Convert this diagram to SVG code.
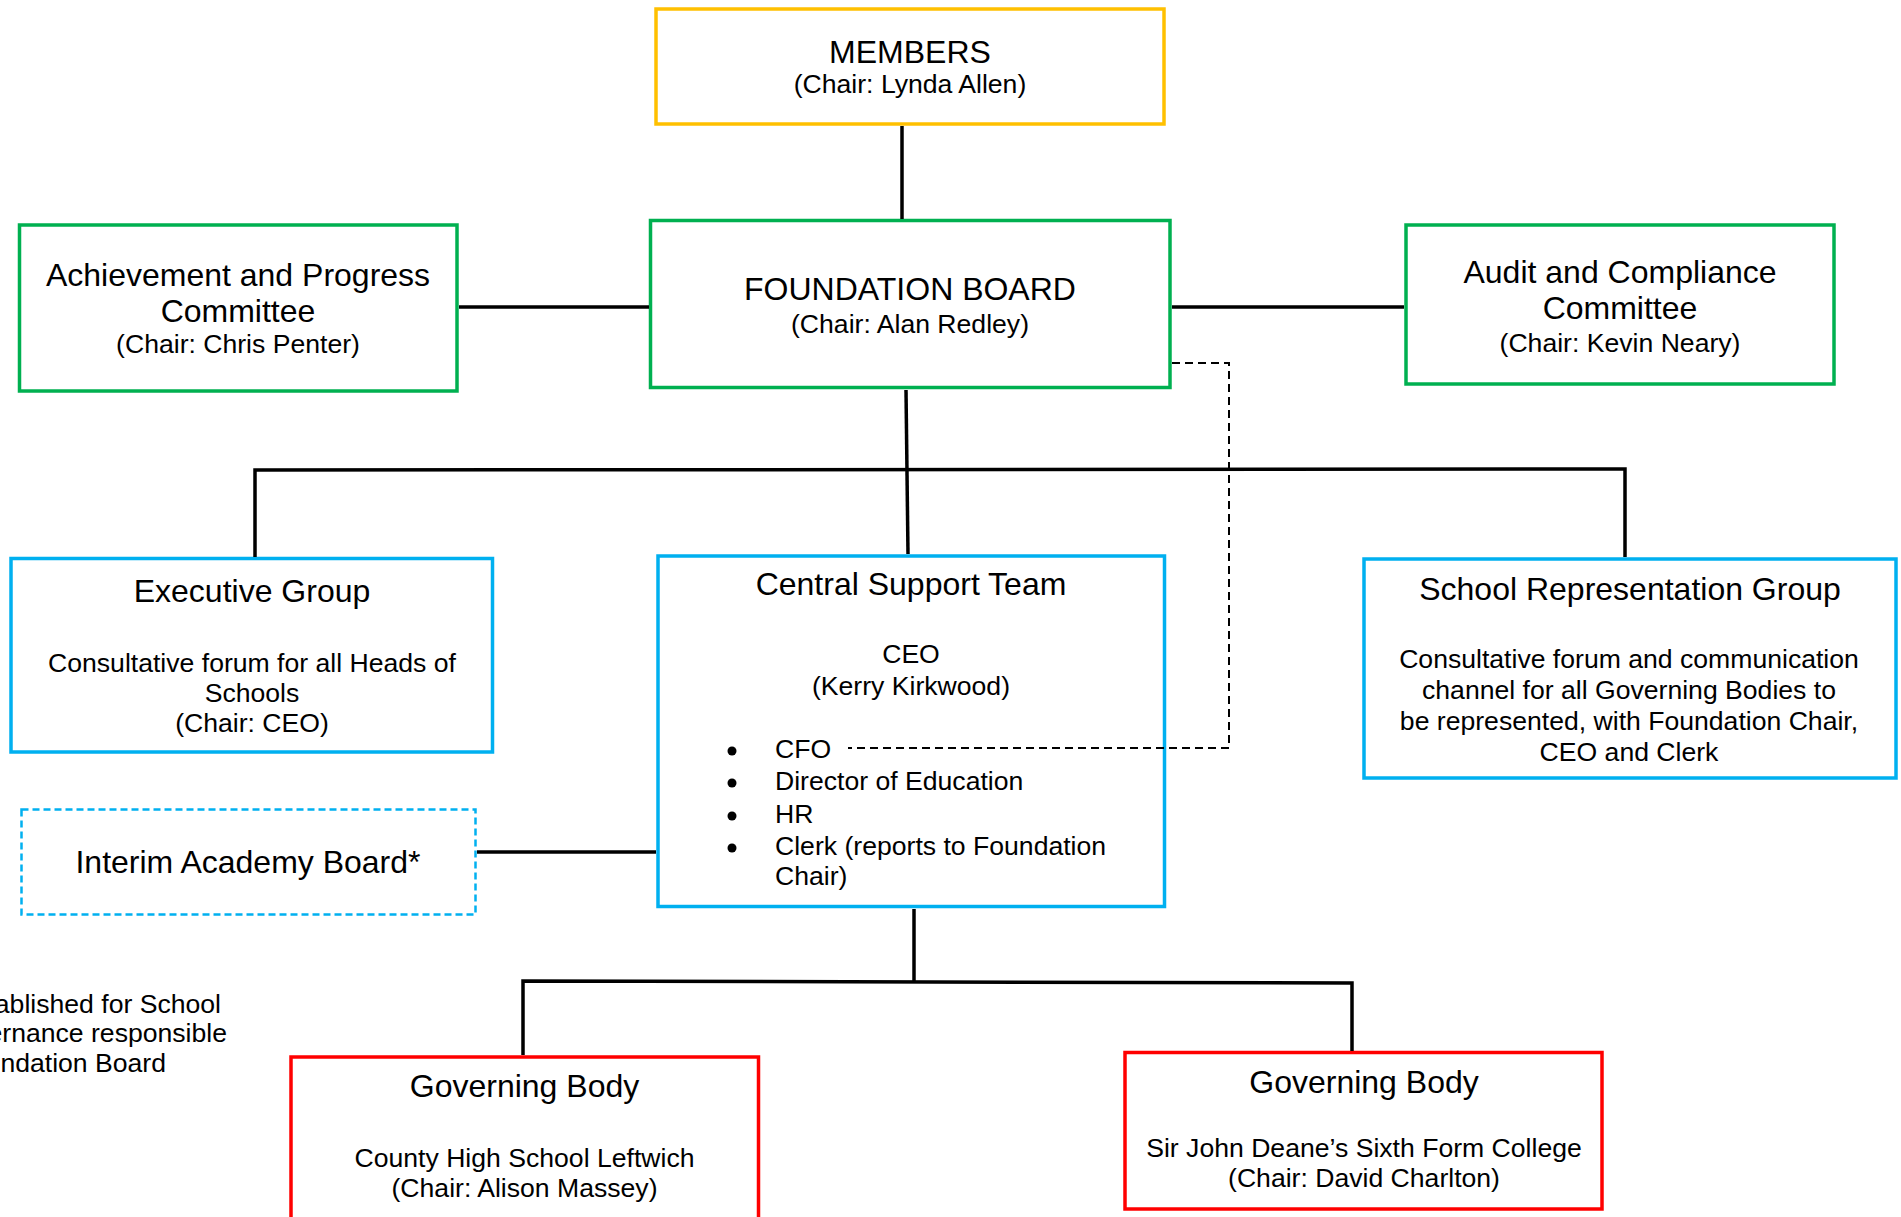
<svg xmlns="http://www.w3.org/2000/svg" width="1901" height="1217" viewBox="0 0 1901 1217">
<style>
.box{fill:#fff;stroke-width:3.5}
.gold{stroke:#FFC000}.green{stroke:#00B050}.blue{stroke:#00B0F0}.red{stroke:#FF0000}
.dash{fill:#fff;stroke:#00B0F0;stroke-width:2.5;stroke-dasharray:7 4}
text{font-family:"Liberation Sans",Arial,sans-serif;fill:#000}
.t{font-size:32px;text-anchor:middle}
.s{font-size:26.6px;text-anchor:middle}
.l{font-size:26.6px}
.e{font-size:26.6px;text-anchor:end}
.conn{fill:none;stroke:#000;stroke-width:3.5}
.dline{fill:none;stroke:#000;stroke-width:2;stroke-dasharray:8 5}
</style>
<rect width="1901" height="1217" fill="#fff"/>
<g id="members">
<rect class="box gold" x="656" y="9" width="508" height="115"/>
<text class="t" x="910" y="63">MEMBERS</text>
<text class="s" x="910" y="93">(Chair: Lynda Allen)</text>
</g>
<g id="foundation-board">
<rect class="box green" x="650.5" y="220.5" width="519.5" height="167"/>
<text class="t" x="910" y="300">FOUNDATION BOARD</text>
<text class="s" x="910" y="333">(Chair: Alan Redley)</text>
</g>
<g id="achievement">
<rect class="box green" x="19.5" y="225" width="437.5" height="166"/>
<text class="t" x="238" y="286">Achievement and Progress</text>
<text class="t" x="238" y="322">Committee</text>
<text class="s" x="238" y="353">(Chair: Chris Penter)</text>
</g>
<g id="audit">
<rect class="box green" x="1406" y="225" width="428" height="159"/>
<text class="t" x="1620" y="283">Audit and Compliance</text>
<text class="t" x="1620" y="319">Committee</text>
<text class="s" x="1620" y="352">(Chair: Kevin Neary)</text>
</g>
<g id="executive-group">
<rect class="box blue" x="11" y="558.5" width="481.5" height="193.5"/>
<text class="t" x="252" y="602">Executive Group</text>
<text class="s" x="252" y="672">Consultative forum for all Heads of</text>
<text class="s" x="252" y="702">Schools</text>
<text class="s" x="252" y="732">(Chair: CEO)</text>
</g>
<g id="central-support-team">
<rect class="box blue" x="658" y="556" width="506.5" height="350.5"/>
<text class="t" x="911" y="595">Central Support Team</text>
<text class="s" x="911" y="663">CEO</text>
<text class="s" x="911" y="695">(Kerry Kirkwood)</text>
<circle cx="732" cy="751" r="4.5"/>
<circle cx="732" cy="783" r="4.5"/>
<circle cx="732" cy="816" r="4.5"/>
<circle cx="732" cy="848" r="4.5"/>
<text class="l" x="775" y="758">CFO</text>
<text class="l" x="775" y="790">Director of Education</text>
<text class="l" x="775" y="823">HR</text>
<text class="l" x="775" y="855">Clerk (reports to Foundation</text>
<text class="l" x="775" y="885">Chair)</text>
</g>
<g id="school-representation-group">
<rect class="box blue" x="1364" y="559" width="532" height="219"/>
<text class="t" x="1630" y="600">School Representation Group</text>
<text class="s" x="1629" y="668">Consultative forum and communication</text>
<text class="s" x="1629" y="699">channel for all Governing Bodies to</text>
<text class="s" x="1629" y="730">be represented, with Foundation Chair,</text>
<text class="s" x="1629" y="761">CEO and Clerk</text>
</g>
<g id="interim-academy-board">
<rect class="dash" x="21.5" y="809.5" width="454" height="105"/>
<text class="t" x="248" y="873">Interim Academy Board*</text>
</g>
<g id="footnote">
<text class="e" x="221" y="1013">ablished for School</text>
<text class="e" x="227" y="1042">ernance responsible</text>
<text class="e" x="166" y="1072">ndation Board</text>
</g>
<g id="governing-body-1">
<rect class="box red" x="291" y="1057" width="467.5" height="200"/>
<text class="t" x="524.5" y="1097">Governing Body</text>
<text class="s" x="524.5" y="1167">County High School Leftwich</text>
<text class="s" x="524.5" y="1197">(Chair: Alison Massey)</text>
</g>
<g id="governing-body-2">
<rect class="box red" x="1125" y="1052.5" width="477" height="156.5"/>
<text class="t" x="1364" y="1093">Governing Body</text>
<text class="s" x="1364" y="1157">Sir John Deane’s Sixth Form College</text>
<text class="s" x="1364" y="1187">(Chair: David Charlton)</text>
</g>
<g id="connectors">
<path class="conn" d="M902 126 V219"/>
<path class="conn" d="M459 307 H649"/>
<path class="conn" d="M1172 307 H1404"/>
<path class="conn" d="M906 390 L908 554"/>
<path class="conn" d="M255 557 V470 L1625 469 V557"/>
<path class="conn" d="M477 852 H656"/>
<path class="conn" d="M914 909 V982"/>
<path class="conn" d="M523 1055 V981 L1352 983 V1051"/>
<path class="dline" d="M1172 363 H1229 V748 H848"/>
</g>
</svg>
